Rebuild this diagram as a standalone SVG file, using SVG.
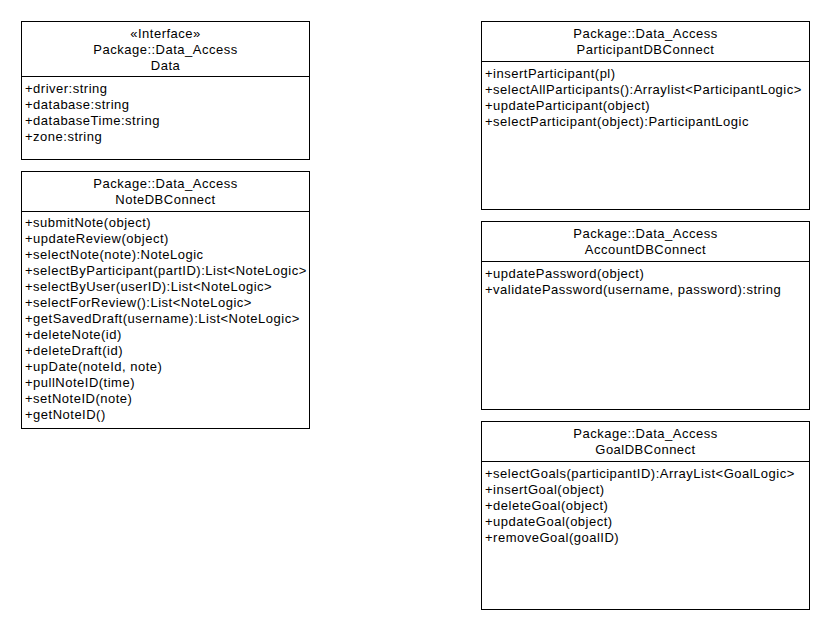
<svg xmlns="http://www.w3.org/2000/svg" width="830" height="630" viewBox="0 0 830 630">
<style>
.box{fill:#fff;stroke:#000;stroke-width:1}
.div{stroke:#000;stroke-width:1}
text{font-family:"Liberation Sans",Arial,sans-serif;font-size:13px;letter-spacing:0.5px;fill:#000}
.c{text-anchor:middle}
</style>
<rect width="830" height="630" fill="#fff"/>
<g id="Data">
<rect class="box" x="21.5" y="21.5" width="288" height="138"/>
<line class="div" x1="21.5" y1="76.5" x2="309.5" y2="76.5"/>
<text class="c" x="165.5" y="38">«Interface»</text>
<text class="c" x="165.5" y="54">Package::Data_Access</text>
<text class="c" x="165.5" y="70">Data</text>
<text x="25" y="93">+driver:string</text>
<text x="25" y="109">+database:string</text>
<text x="25" y="125">+databaseTime:string</text>
<text x="25" y="141">+zone:string</text>
</g>
<g id="NoteDBConnect">
<rect class="box" x="21.5" y="171.5" width="288" height="257"/>
<line class="div" x1="21.5" y1="211.5" x2="309.5" y2="211.5"/>
<text class="c" x="165.5" y="188">Package::Data_Access</text>
<text class="c" x="165.5" y="204">NoteDBConnect</text>
<text x="25" y="227">+submitNote(object)</text>
<text x="25" y="243">+updateReview(object)</text>
<text x="25" y="259">+selectNote(note):NoteLogic</text>
<text x="25" y="275">+selectByParticipant(partID):List&lt;NoteLogic&gt;</text>
<text x="25" y="291">+selectByUser(userID):List&lt;NoteLogic&gt;</text>
<text x="25" y="307">+selectForReview():List&lt;NoteLogic&gt;</text>
<text x="25" y="323">+getSavedDraft(username):List&lt;NoteLogic&gt;</text>
<text x="25" y="339">+deleteNote(id)</text>
<text x="25" y="355">+deleteDraft(id)</text>
<text x="25" y="371">+upDate(noteId, note)</text>
<text x="25" y="387">+pullNoteID(time)</text>
<text x="25" y="403">+setNoteID(note)</text>
<text x="25" y="419">+getNoteID()</text>
</g>
<g id="ParticipantDBConnect">
<rect class="box" x="481.5" y="21.5" width="328" height="188"/>
<line class="div" x1="481.5" y1="61.5" x2="809.5" y2="61.5"/>
<text class="c" x="645.5" y="38">Package::Data_Access</text>
<text class="c" x="645.5" y="54">ParticipantDBConnect</text>
<text x="485" y="78">+insertParticipant(pl)</text>
<text x="485" y="94">+selectAllParticipants():Arraylist&lt;ParticipantLogic&gt;</text>
<text x="485" y="110">+updateParticipant(object)</text>
<text x="485" y="126">+selectParticipant(object):ParticipantLogic</text>
</g>
<g id="AccountDBConnect">
<rect class="box" x="481.5" y="221.5" width="328" height="188"/>
<line class="div" x1="481.5" y1="261.5" x2="809.5" y2="261.5"/>
<text class="c" x="645.5" y="238">Package::Data_Access</text>
<text class="c" x="645.5" y="254">AccountDBConnect</text>
<text x="485" y="278">+updatePassword(object)</text>
<text x="485" y="294">+validatePassword(username, password):string</text>
</g>
<g id="GoalDBConnect">
<rect class="box" x="481.5" y="421.5" width="328" height="188"/>
<line class="div" x1="481.5" y1="461.5" x2="809.5" y2="461.5"/>
<text class="c" x="645.5" y="438">Package::Data_Access</text>
<text class="c" x="645.5" y="454">GoalDBConnect</text>
<text x="485" y="478">+selectGoals(participantID):ArrayList&lt;GoalLogic&gt;</text>
<text x="485" y="494">+insertGoal(object)</text>
<text x="485" y="510">+deleteGoal(object)</text>
<text x="485" y="526">+updateGoal(object)</text>
<text x="485" y="542">+removeGoal(goalID)</text>
</g>
<g id="connectors"></g>
</svg>
